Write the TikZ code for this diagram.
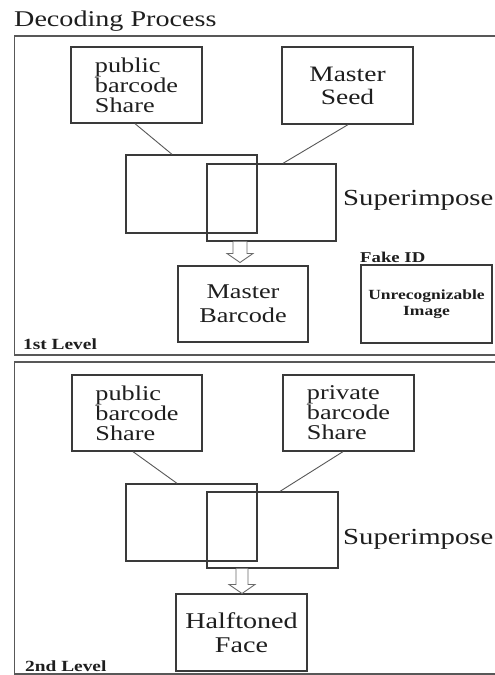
\documentclass[tikz,border=0pt]{standalone}
\usepackage{fontspec}
\setmainfont[FakeStretch=1.25]{Liberation Serif}
\usetikzlibrary{calc}
\definecolor{ink}{HTML}{1E1E1E}
\definecolor{edge}{HTML}{3A3A3A}
\begin{document}
\begin{tikzpicture}[x=1pt,y=-1pt,
  box/.style={draw=edge, line width=1.3pt, inner sep=0pt, text=ink},
  conn/.style={draw=edge!85, line width=0.9pt},
  panel/.style={draw=edge!85, line width=1.6pt},
  hollow/.style={draw=edge!75, line width=0.9pt, fill=white},
  lbl/.style={text=ink, inner sep=0pt}]
\useasboundingbox[fill=white] (0,0) rectangle (495,675);

% title
\node[lbl, anchor=base west, font=\fontsize{22.5}{22.5}\selectfont] (title) at (14,26) {Decoding Process};

% panels
\draw[panel] (497,36) -- (14.5,36) -- (14.5,355) -- (497,355);
\draw[panel] (497,362) -- (14.5,362) -- (14.5,674) -- (497,674);

% ---------- 1st level ----------
\node[box, minimum width=131pt, minimum height=76pt, align=left, font=\fontsize{21}{20}\selectfont] (pub1) at (136.5,85) {public\\barcode\\Share};
\node[box, minimum width=131pt, minimum height=77pt, align=center, font=\fontsize{22}{23}\selectfont] (seed1) at (347.5,85.5) {Master\\Seed};
\node[box, minimum width=131pt, minimum height=78pt] (sa1) at (191.5,194) {};
\node[box, minimum width=129pt, minimum height=77pt] (sb1) at (271.5,202.5) {};
\node[lbl, anchor=base west, font=\fontsize{23}{23}\selectfont] (sup1) at (343,205) {Superimpose};
\node[box, minimum width=130pt, minimum height=76pt, align=center, font=\fontsize{21}{24}\selectfont] (mb) at (243,304) {Master\\Barcode};
\node[lbl, anchor=base west, font=\bfseries\fontsize{15}{15}\selectfont] (fake) at (360,262) {Fake ID};
\node[box, minimum width=131pt, minimum height=78pt, align=center, font=\bfseries\fontsize{14}{16}\selectfont] (unrec) at (426.5,304) {Unrecognizable\\Image};
\node[lbl, anchor=base west, font=\bfseries\fontsize{15.5}{15.5}\selectfont] (lvl1) at (23,349) {1st Level};

\draw[conn] ([xshift=-1.5pt]pub1.south) -- ([xshift=-19.5pt]sa1.north);
\draw[conn] ([xshift=0.5pt]seed1.south) -- ([xshift=11.5pt]sb1.north);

\coordinate (ar1) at (240,241.5);
\coordinate (ar1e) at (240,262.5);
\draw[hollow] ($(ar1)+(-7,0)$) -- ($(ar1)+(-7,12)$) -- ($(ar1)+(-13,12)$) -- (ar1e) -- ($(ar1)+(13,12)$) -- ($(ar1)+(7,12)$) -- ($(ar1)+(7,0)$);

% ---------- 2nd level ----------
\node[box, minimum width=130pt, minimum height=76pt, align=left, font=\fontsize{21}{20}\selectfont] (pub2) at (137,413) {public\\barcode\\Share};
\node[box, minimum width=131pt, minimum height=76pt, align=left, font=\fontsize{21}{20}\selectfont] (priv2) at (348.5,413) {private\\barcode\\Share};
\node[box, minimum width=131pt, minimum height=77pt] (sa2) at (191.5,522.5) {};
\node[box, minimum width=131pt, minimum height=76pt] (sb2) at (272.5,530) {};
\node[lbl, anchor=base west, font=\fontsize{23}{23}\selectfont] (sup2) at (343,544) {Superimpose};
\node[box, minimum width=131pt, minimum height=77pt, align=center, font=\fontsize{22.5}{24}\selectfont] (hf) at (241.5,632.5) {Halftoned\\Face};
\node[lbl, anchor=base west, font=\bfseries\fontsize{15.5}{15.5}\selectfont] (lvl2) at (25,671) {2nd Level};

\draw[conn] ([xshift=-4pt]pub2.south) -- ([xshift=-14.5pt]sa2.north);
\draw[conn] ([xshift=-5.5pt]priv2.south) -- ([xshift=7.5pt]sb2.north);

\coordinate (ar2) at (242,568.5);
\coordinate (ar2e) at (242,593.5);
\draw[hollow] ($(ar2)+(-6,0)$) -- ($(ar2)+(-6,16)$) -- ($(ar2)+(-13,16)$) -- (ar2e) -- ($(ar2)+(13,16)$) -- ($(ar2)+(6,16)$) -- ($(ar2)+(6,0)$);
\end{tikzpicture}
\end{document}
